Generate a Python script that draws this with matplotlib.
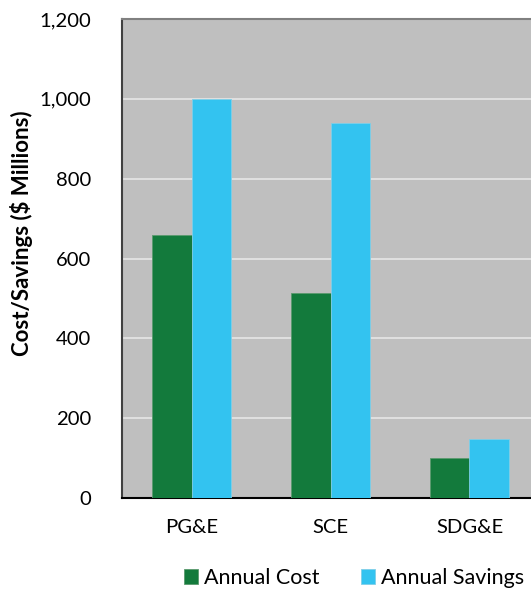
import matplotlib
matplotlib.use("Agg")
import matplotlib.pyplot as plt
import numpy as np
from matplotlib.ticker import FuncFormatter

categories = ["PG&E", "SCE", "SDG&E"]
annual_cost = [660, 513, 100]
annual_savings = [1000, 940, 148]
series_names = ["Annual Cost", "Annual Savings"]
yticks = [0, 200, 400, 600, 800, 1000, 1200]

plt.rcParams['font.family'] = ['Lato', 'DejaVu Sans']

fig = plt.figure(figsize=(5.31, 5.89), dpi=100)
ax = fig.add_axes([122/531, 1-498/589, 417/531, (498-19)/589])
ax.set_facecolor('#bfbfbf')

x = np.arange(len(categories))
w = 0.2875
green = '#137a3c'
blue = '#33c3f0'
ax.bar(x - w/2, annual_cost, w, color=green, edgecolor='#5a9a6e', linewidth=0.6, label=series_names[0], zorder=3)
ax.bar(x + w/2, annual_savings, w, color=blue, edgecolor='#7fcfe8', linewidth=0.6, label=series_names[1], zorder=3)

ax.set_xlim(-0.5, 2.5)
ax.set_ylim(0, 1200)
ax.set_yticks(yticks)
ax.yaxis.set_major_formatter(FuncFormatter(lambda v, p: f"{int(v):,}"))
ax.set_xticks(x)
ax.set_xticklabels(categories)
ax.tick_params(axis='both', length=0, labelsize=14.6, colors='black')
ax.tick_params(axis='y', pad=22)
ax.tick_params(axis='x', pad=15)
ax.grid(axis='y', color='#e6e6e6', linewidth=1.2, zorder=1)
ax.set_axisbelow(True)

ax.spines['left'].set_color('#404040')
ax.spines['left'].set_linewidth(1.5)
ax.spines['bottom'].set_color('black')
ax.spines['bottom'].set_linewidth(1.5)
ax.spines['top'].set_color('#808080')
ax.spines['top'].set_linewidth(1.5)
ax.spines['right'].set_visible(False)

ax.set_ylabel("Cost/Savings ($ Millions)", fontsize=16, fontweight='bold')
ax.yaxis.set_label_coords((33 - 122) / 417, (498 - 233) / 479)

leg = fig.legend(loc='center', bbox_to_anchor=(354/531, 1-578/589), ncol=2, frameon=False,
                 fontsize=15.5, handlelength=0.65, handleheight=0.65, handletextpad=0.3,
                 columnspacing=1.9, borderaxespad=0)

fig.savefig("out.png", dpi=100)
